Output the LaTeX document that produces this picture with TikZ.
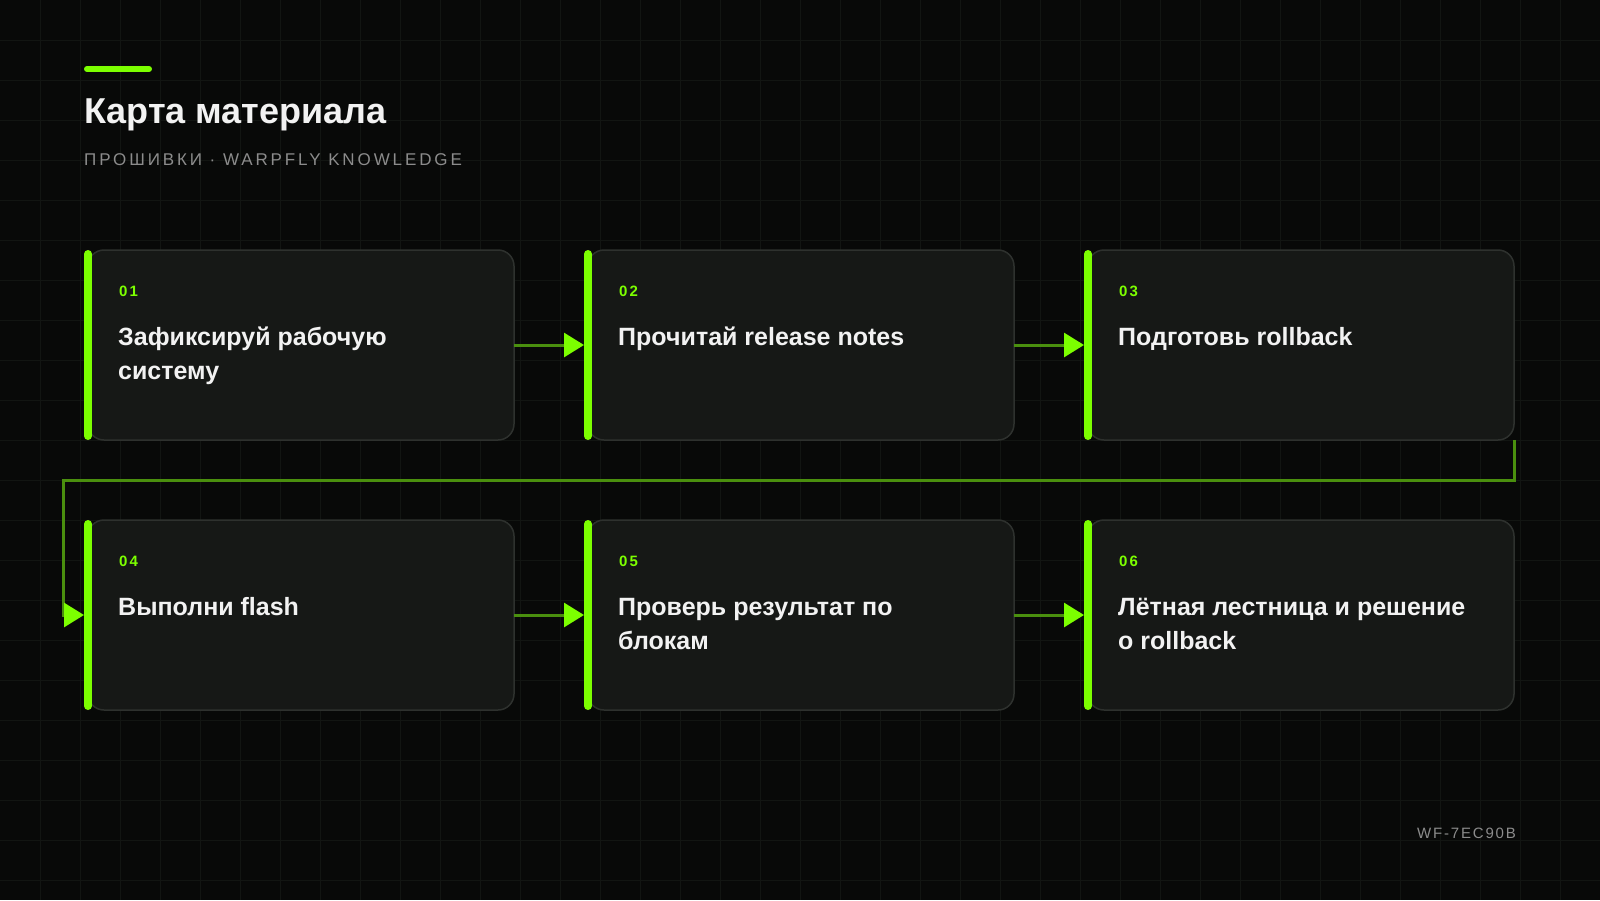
\documentclass[tikz,border=0pt]{standalone}
\usepackage{fontspec}
\setmainfont{Liberation Sans}
\newfontfamily\spacedfont[LetterSpace=17]{Liberation Sans}
\newfontfamily\numfont[LetterSpace=14]{Liberation Sans}
\newfontfamily\tagfont[LetterSpace=12]{Liberation Sans}
\usetikzlibrary{positioning, arrows.meta}
\definecolor{bg}{HTML}{080908}
\definecolor{gridc}{HTML}{121512}
\definecolor{card}{HTML}{161816}
\definecolor{cardline}{HTML}{2E312E}
\definecolor{lime}{HTML}{7CFF00}
\definecolor{wirec}{HTML}{4A8F0E}
\definecolor{muted}{HTML}{8C8C8C}
\definecolor{ink}{HTML}{F2F2F2}

\begin{document}
\begin{tikzpicture}[x=1pt, y=-1pt, node distance=74pt,
  card/.style={draw=cardline, line width=1.5pt, fill=card, rounded corners=16pt, minimum width=426pt, minimum height=190pt, inner sep=0pt, outer sep=0pt},
  accent/.style={draw=lime, line width=8pt, line cap=round, shorten >=4pt, shorten <=4pt},
  num/.style={anchor=base west, inner sep=0pt, text=lime, font=\numfont\bfseries\fontsize{15}{18}\selectfont},
  head/.style={anchor=base west, inner sep=0pt, align=left, text=ink, font=\bfseries\fontsize{25}{34}\selectfont},
  wire/.style={draw=wirec, line width=3pt, shorten >=4pt, -{Triangle[length=20pt, width=24pt, color=lime, fill=lime]}}]
\useasboundingbox (0,0) rectangle (1600,900);
\fill[bg] (0,0) rectangle (1600,900);
\foreach \gx in {40,80,...,1560} \draw[gridc] (\gx,0) -- (\gx,900);
\foreach \gy in {40,80,...,880} \draw[gridc] (0,\gy) -- (1600,\gy);

% header
\draw[lime, line width=6pt, line cap=round] (87,69) -- (149,69);
\node[anchor=base west, inner sep=0pt, text=ink, font=\bfseries\fontsize{36}{40}\selectfont] (title) at (84,123) {Карта материала};
\node[anchor=base west, inner sep=0pt, text=muted, font=\spacedfont\fontsize{17}{20}\selectfont] (subtitle) at (84,165) {ПРОШИВКИ · WARPFLY KNOWLEDGE};

% cards
\node[card] (s1) at (301,345) {};
\node[card, right=of s1] (s2) {};
\node[card, right=of s2] (s3) {};
\node[card, below=80pt of s1] (s4) {};
\node[card, right=of s4] (s5) {};
\node[card, right=of s5] (s6) {};

\draw[accent] (s1.north west) -- (s1.south west);
\draw[accent] (s2.north west) -- (s2.south west);
\draw[accent] (s3.north west) -- (s3.south west);
\draw[accent] (s4.north west) -- (s4.south west);
\draw[accent] (s5.north west) -- (s5.south west);
\draw[accent] (s6.north west) -- (s6.south west);

\node[num] (n1) at ([shift={(31,46)}]s1.north west) {01};
\node[num] (n2) at ([shift={(31,46)}]s2.north west) {02};
\node[num] (n3) at ([shift={(31,46)}]s3.north west) {03};
\node[num] (n4) at ([shift={(31,46)}]s4.north west) {04};
\node[num] (n5) at ([shift={(31,46)}]s5.north west) {05};
\node[num] (n6) at ([shift={(31,46)}]s6.north west) {06};

% two-line titles sit on their last line
\node[head] (h1) at ([shift={(30,129)}]s1.north west) {Зафиксируй рабочую\\систему};
\node[head] (h2) at ([shift={(30,95)}]s2.north west) {Прочитай release notes};
\node[head] (h3) at ([shift={(30,95)}]s3.north west) {Подготовь rollback};
\node[head] (h4) at ([shift={(30,95)}]s4.north west) {Выполни flash};
\node[head] (h5) at ([shift={(30,129)}]s5.north west) {Проверь результат по\\блокам};
\node[head] (h6) at ([shift={(30,129)}]s6.north west) {Лётная лестница и решение\\о rollback};

% connectors
\coordinate (turn) at ([xshift=-25pt]s4.west);
\draw[wire] (s1.east) -- (s2.west);
\draw[wire] (s2.east) -- (s3.west);
\draw[wire] (s3.south east) -- ++(0,40) -| (turn) -- (s4.west);
\draw[wire] (s4.east) -- (s5.west);
\draw[wire] (s5.east) -- (s6.west);

\node[anchor=base east, inner sep=0pt, text=muted, font=\tagfont\fontsize{15}{18}\selectfont] (tag) at (1516,838) {WF-7EC90B};
\end{tikzpicture}
\end{document}
